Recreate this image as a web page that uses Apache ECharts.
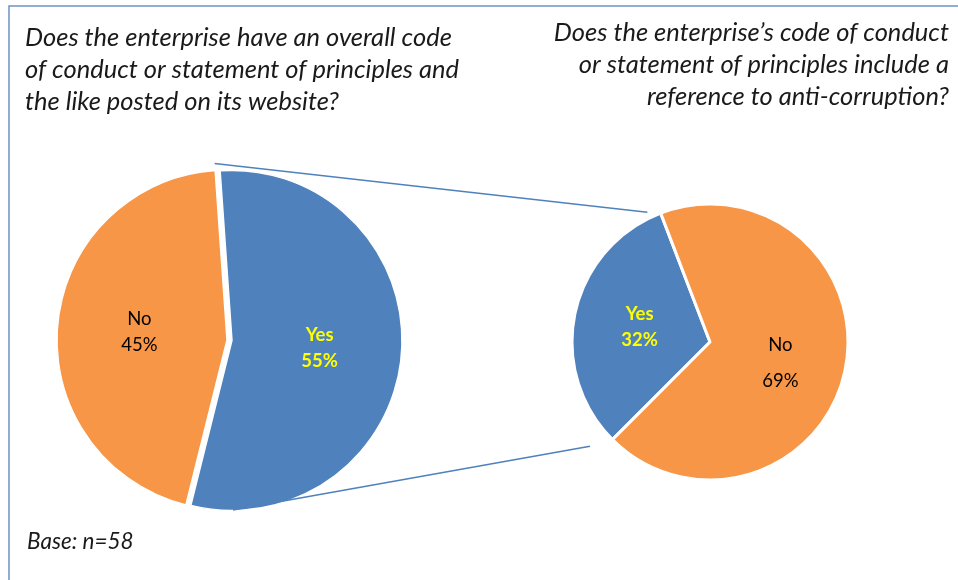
<!DOCTYPE html>
<html>
<head>
<meta charset="utf-8">
<script src="https://cdn.jsdelivr.net/npm/echarts@6/dist/echarts.min.js"></script>
<style>
html,body{margin:0;padding:0;background:#fff;}
#c{width:958px;height:580px;}
</style>
</head>
<body>
<div id="c"></div>
<script>
// ---- data ----
const leftCategories = ['Yes', 'No'];
const leftValues = [55, 45];
const rightCategories = ['Yes', 'No'];
const rightValues = [32, 69];
const leftTitle = 'Does the enterprise have an overall code\nof conduct or statement of principles and\nthe like posted on its website?';
const rightTitle = 'Does the enterprise\u2019s code of conduct\nor statement of principles include a\nreference to anti-corruption?';
const baseNote = 'Base: n=58';

// ---- layout ----
const BLUE = '#4F81BD', ORANGE = '#F79646';
const L = {cx: 227, cy: 340, r: 170, start: 94};
const R = {cx: 710, cy: 342, r: 138, start: 225};
const FONT = 'Lato, "Open Sans", sans-serif';
const TITLE_STYLE = {fontFamily: FONT, fontStyle: 'italic', fontWeight: 'normal', fontSize: 25.5, lineHeight: 32, fill: '#1a1a1a'};

function mk(cats, vals, isLeft) {
  return cats.map((c, i) => ({
    name: c,
    value: vals[i],
    selected: isLeft && c === 'Yes',
    itemStyle: {color: c === 'Yes' ? BLUE : ORANGE},
    label: c === 'Yes'
      ? {color: '#FFFF00', fontWeight: 'bold'}
      : (isLeft ? {color: '#000', fontWeight: 'normal'}
                : {color: '#000', fontWeight: 'normal', lineHeight: 36, offset: [0, 6]})
  }));
}

function pt(p, angDegCwFromTop, rad) {
  const a = angDegCwFromTop * Math.PI / 180;
  return [p.cx + rad * Math.sin(a), p.cy - rad * Math.cos(a)];
}

// connector lines derived from pie geometry
const lTop = pt(L, -4, L.r + 7);
const lBot = pt({cx: L.cx + 6, cy: L.cy}, 180, L.r);
const rTop = pt(R, -25.8, R.r + 6);
const rBot = pt(R, 229, R.r + 21);

const chart = echarts.init(document.getElementById('c'), null, {renderer: 'canvas'});
const labelCommon = {
  show: true, position: 'inside', fontFamily: FONT, fontSize: 18.5, lineHeight: 26,
  formatter: p => p.name + '\n' + p.value + '%'
};
chart.setOption({
  animation: false,
  backgroundColor: '#fff',
  graphic: [
    {type: 'polyline', silent: true, z: 0,
     shape: {points: [[9, 600], [9, 6], [980, 6]]},
     style: {stroke: '#6F93C6', lineWidth: 1.5, fill: null}},
    {type: 'text', silent: true, x: 25, y: 22,
     style: Object.assign({text: leftTitle, align: 'left', verticalAlign: 'top'}, TITLE_STYLE)},
    {type: 'text', silent: true, x: 949, y: 17,
     style: Object.assign({text: rightTitle, align: 'right', verticalAlign: 'top'}, TITLE_STYLE)},
    {type: 'text', silent: true, x: 27, y: 530,
     style: {text: baseNote, fontFamily: FONT, fontStyle: 'italic', fontSize: 22.5, fill: '#1a1a1a', verticalAlign: 'top'}},
    {type: 'line', silent: true, z: 100,
     shape: {x1: lTop[0], y1: lTop[1], x2: rTop[0], y2: rTop[1]},
     style: {stroke: BLUE, lineWidth: 1.5}},
    {type: 'line', silent: true, z: 100,
     shape: {x1: lBot[0], y1: lBot[1], x2: rBot[0], y2: rBot[1]},
     style: {stroke: BLUE, lineWidth: 1.5}}
  ],
  series: [
    {type: 'pie', center: [L.cx, L.cy], radius: [0, L.r], startAngle: L.start, clockwise: true,
     selectedMode: 'single', selectedOffset: 5, avoidLabelOverlap: false,
     itemStyle: {borderColor: '#fff', borderWidth: 1.5},
     label: labelCommon, labelLine: {show: false},
     emphasis: {disabled: true},
     data: mk(leftCategories, leftValues, true)},
    {type: 'pie', center: [R.cx, R.cy], radius: [0, R.r], startAngle: R.start, clockwise: true,
     selectedMode: false, avoidLabelOverlap: false,
     itemStyle: {borderColor: '#fff', borderWidth: 3},
     label: labelCommon, labelLine: {show: false},
     emphasis: {disabled: true},
     data: mk(rightCategories, rightValues, false)}
  ]
});
</script>
</body>
</html>
